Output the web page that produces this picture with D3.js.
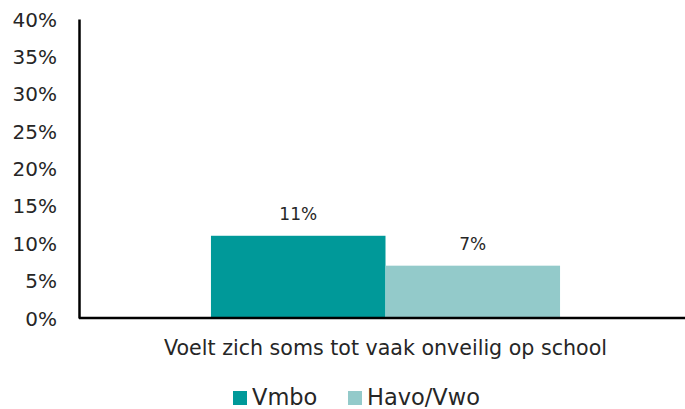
<!DOCTYPE html>
<html>
<head>
<meta charset="utf-8">
<script src="https://cdn.jsdelivr.net/npm/d3@7"></script>
<style>
  html, body { margin: 0; padding: 0; background: #fff; }
  svg { display: block; }
  text { font-family: "DejaVu Sans", sans-serif; fill: #262626; }
</style>
</head>
<body>
<svg id="chart" width="685" height="409"></svg>
<script>
// Share of pupils who feel unsafe at school, by school type
const categories = ["Voelt zich soms tot vaak onveilig op school"];
const seriesNames = ["Vmbo", "Havo/Vwo"];
const seriesValues = [[11], [7]];
const seriesColors = ["#009999", "#93CACA"];
const yTicks = [0, 5, 10, 15, 20, 25, 30, 35, 40];

const svg = d3.select("#chart");
const W = 685, H = 409;
const margin = { left: 79, right: -7, top: 19, bottom: 91 };
const plotBottom = H - margin.bottom;

const y = d3.scaleLinear().domain([0, 40]).range([plotBottom, margin.top]);
const x0 = d3.scaleBand().domain(categories)
  .range([margin.left, W - margin.right]).paddingInner(0).paddingOuter(0.378);
const x1 = d3.scaleBand().domain(seriesNames).range([0, x0.bandwidth()]);

// Bars with value labels
const g = svg.append("g");
categories.forEach((cat, ci) => {
  seriesNames.forEach((s, si) => {
    const v = seriesValues[si][ci];
    g.append("rect")
      .attr("x", x0(cat) + x1(s))
      .attr("y", y(v))
      .attr("width", x1.bandwidth())
      .attr("height", y(0) - y(v))
      .attr("fill", seriesColors[si]);
    g.append("text")
      .attr("x", x0(cat) + x1(s) + x1.bandwidth() / 2)
      .attr("y", y(v) - 16)
      .attr("text-anchor", "middle")
      .style("font-size", "17px")
      .text(v + "%");
  });
});

// Y axis
const yAxis = d3.axisLeft(y).tickValues(yTicks).tickFormat(d => d + "%").tickSize(0).tickPadding(22);
const ya = svg.append("g").attr("transform", `translate(${margin.left},0)`).call(yAxis);
ya.select(".domain").attr("stroke", "#000").attr("stroke-width", 2.5);
ya.selectAll("text").style("font-size", "20px").attr("fill", "#262626").attr("dy", "0.35em");

// X axis
const xAxis = d3.axisBottom(x0).tickSize(0).tickPadding(22);
const xa = svg.append("g").attr("transform", `translate(0,${plotBottom})`).call(xAxis);
xa.select(".domain").attr("stroke", "#000").attr("stroke-width", 2.5)
  .attr("d", `M${margin.left},0H${W}`);
xa.selectAll("text").style("font-size", "20.6px").attr("fill", "#262626");

// Legend
const legendX = [233, 348];
const legend = svg.append("g");
seriesNames.forEach((s, i) => {
  legend.append("rect").attr("x", legendX[i]).attr("y", 391).attr("width", 14).attr("height", 14).attr("fill", seriesColors[i]);
  legend.append("text").attr("x", legendX[i] + 19).attr("y", 405).style("font-size", "22.5px").text(s);
});
</script>
</body>
</html>
